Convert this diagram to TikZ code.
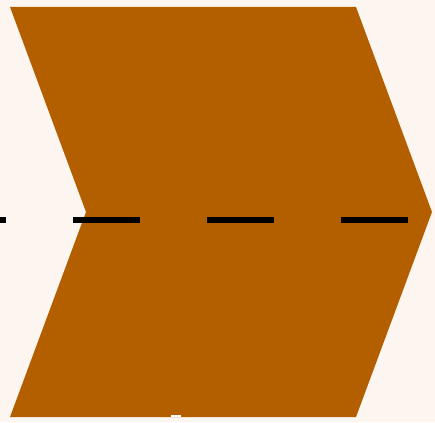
\documentclass[tikz,border=0pt]{standalone}
\definecolor{bg}{HTML}{FDF5F0}
\definecolor{chev}{HTML}{B35F00}
\tikzset{chevron/.style={fill=chev,draw=none},
  dashline/.style={line width=6.5pt,black,dash pattern=on 67pt off 67pt,dash phase=61pt}}
\begin{document}
\begin{tikzpicture}[x=1pt,y=-1pt]
\fill[bg] (0,0) rectangle (435,422);
\useasboundingbox (0,0) rectangle (435,422);
\fill[chevron] (10,7) -- (356,7) -- (432,212) -- (356,417) -- (10,417) -- (86,212) -- cycle;
\fill[white] (171,415) rectangle (181,417);
\coordinate (l) at (0,220);
\coordinate (r) at (435,220);
\draw[dashline] (l) -- (r);
\end{tikzpicture}
\end{document}
